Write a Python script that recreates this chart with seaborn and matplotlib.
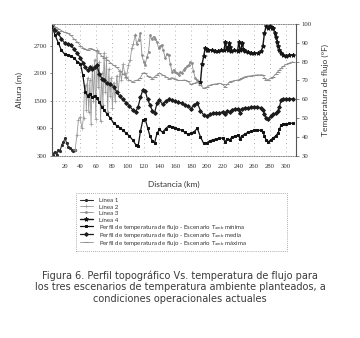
import matplotlib

matplotlib.use("Agg")
import matplotlib.pyplot as plt
import pandas as pd
import seaborn as sns

# ---- data ---------------------------------------------------------------
# topography (m) for the four pipeline segments
KM_L1 = [3.7, 5.8, 7.9, 10, 12.2, 14.3, 16.4, 18.5, 20.6, 22.7, 24.8, 27, 29, 31, 33.3]
ALT_L1 = [352, 310, 388, 315, 424, 410, 540, 606, 680, 570, 497, 460, 424, 400, 424]

KM_L2 = [33.3, 35.5, 37.5, 39.7, 41.8, 43.9, 45, 46.5, 47.5, 49,
         50.5, 52, 53.5, 55, 56.5, 58, 59.5, 61, 62.5, 64,
         65.5, 67, 68.5, 70, 71.5, 73, 74.5, 76, 77.5, 79,
         80.5, 82, 84, 86, 88, 90, 92, 94, 96, 98,
         100.8, 103, 105, 107, 109.5]
ALT_L2 = [424, 750, 1080, 1150, 900, 1120, 1700, 1850, 1300, 2000,
          1250, 1950, 1000, 2250, 1500, 2400, 1100, 2600, 1800, 2350,
          1050, 2100, 1400, 2550, 1700, 2450, 1250, 2200, 1600, 2000,
          1350, 1900, 1500, 2050, 1700, 2150, 1950, 2300, 2100, 2000,
          2281, 2400, 2647, 2750, 2939]

KM_L3 = [109.5, 111, 113.7, 115.8, 117.9, 120, 122, 124, 126.3, 128.4,
         130, 132.6, 134.7, 136.9, 139, 141, 143.2, 145, 147.4, 149.5,
         151.7, 153.8, 155.9, 158, 160, 162, 164.3, 166, 168.5, 170.5,
         172.7, 175, 177, 179, 181.2, 183, 185.4, 187.5, 189.7, 192]
ALT_L3 = [2939, 2750, 2829, 2975, 2503, 2350, 2281, 2450, 2573, 2939,
          2850, 2902, 2850, 2790, 2647, 2700, 2720, 2600, 2430, 2520,
          2500, 2300, 2137, 2180, 2137, 2100, 2064, 2120, 2100, 2180,
          2210, 2250, 2281, 2350, 2318, 2150, 1994, 1950, 1921, 1919]

KM_L4 = [192, 194, 196, 198, 200, 202, 206, 210, 214, 218,
         222, 223.5, 225, 226.5, 228, 229.5, 231, 235, 239, 240.5,
         242, 243.5, 245, 246.5, 248, 252, 256, 260, 265, 269,
         271, 273, 275, 277, 280, 282, 284, 286, 287.5, 289,
         290.5, 292, 294, 296, 300, 304, 309]
ALT_L4 = [1919, 2300, 2470, 2651, 2620, 2614, 2600, 2590, 2577, 2600,
          2614, 2795, 2650, 2620, 2760, 2684, 2590, 2600, 2590, 2795,
          2620, 2640, 2770, 2620, 2590, 2560, 2540, 2540, 2540, 2577,
          2700, 2980, 3124, 3100, 3136, 3080, 3091, 2980, 2900, 2795,
          2700, 2614, 2540, 2503, 2478, 2490, 2503]

# flow temperature (F) for the three ambient scenarios
KM_T = [4, 8, 12, 16, 20, 24, 28, 32, 36, 40,
        43, 46, 49, 52, 55, 58, 61, 64, 67, 70,
        74, 78, 82, 86, 90, 94, 98, 102, 106, 110,
        113, 116, 119, 122, 125, 128, 131, 134, 137, 140,
        144, 148, 152, 156, 160, 164, 168, 172, 176, 180,
        184, 188, 192, 196, 200, 204, 208, 212, 216, 220,
        223, 226, 229, 232, 236, 240, 242, 244, 248, 252,
        256, 260, 264, 268, 271, 273, 275, 278, 281, 284,
        287, 290, 292, 294, 297, 300, 304, 309]
T_MIN = [99, 94, 90, 86, 84, 83.5, 83, 82, 80, 79,
         73, 64, 62, 63, 61, 62, 60.5, 58.5, 56, 54.5,
         52, 50, 47.4, 46, 45, 43.5, 42, 40.5, 38.5, 36,
         35, 43, 49, 49.5, 45, 40.5, 38, 37, 42, 44,
         42.5, 44.5, 46, 45.5, 45, 44, 43.7, 42.5, 41.5, 42,
         42.8, 44.6, 40, 36.6, 37, 38, 38.5, 39, 39.2, 39.5,
         37.5, 39, 38.5, 40, 40.5, 41, 39, 40.5, 41.5, 42.5,
         43, 43.5, 43.7, 43.5, 42.8, 40.5, 38.3, 37.5, 38.5, 39.5,
         40.5, 42, 44, 46.3, 47, 47, 47.2, 47.3]
T_MED = [99.5, 97, 95, 92, 90, 89.5, 89, 86.5, 84.5, 82,
         79.5, 77, 75.5, 77, 76, 77, 78, 73.5, 71, 70,
         68.5, 68, 66.7, 64, 61.5, 60, 58, 56.5, 54.5, 53.5,
         56, 61, 65, 64.5, 60, 57, 54, 53, 58, 59.5,
         57.5, 59, 60, 59.5, 59, 58.5, 58, 57, 56.5, 55,
         57, 58, 54, 51.7, 51, 52, 52.5, 53, 52.5, 53.5,
         52, 54, 53.5, 54.5, 55, 55, 53, 55, 55.5, 55.5,
         55.8, 56, 56, 55.5, 54.5, 52, 50, 49.5, 51, 52,
         52.5, 54, 56, 59.5, 60, 60, 60.2, 60.3]
T_MAX = [100, 98.5, 97.5, 96.5, 95.5, 95, 94, 92, 90.5, 88.5,
         87.5, 86.5, 86, 87, 86.5, 86, 85.7, 84.5, 83, 82,
         81, 79.5, 78, 77, 75, 73.5, 72, 70, 69.4, 70,
         70.3, 71.5, 74, 74, 72.5, 72, 71, 72, 73, 73.8,
         73, 72, 71, 71.5, 71, 70, 70, 70.3, 69.5, 68,
         68.5, 69, 67.5, 65.9, 66.5, 67.5, 68, 68.2, 68.5, 68,
         66.5, 68, 69.4, 69.6, 70, 70.3, 70.8, 71.2, 72, 72.3,
         72.5, 72.8, 73, 73, 73, 71.5, 70.3, 70.5, 71.2, 72,
         73.2, 74.7, 75.5, 76.5, 77.5, 78.5, 79.2, 80]

ALT_TICKS = [300, 900, 1500, 2100, 2700]
TEMP_TICKS = [30, 40, 50, 60, 70, 80, 90, 100]
KM_TICKS = list(range(20, 301, 20))
GRID_ALT = 1500

LINE_LABELS = ["Línea 1", "Línea 2", "Línea 3", "Línea 4"]
TEMP_LABELS = [
    r"Perfil de temperatura de flujo - Escenario T$_\mathregular{amb}$ mínima",
    r"Perfil de temperatura de flujo - Escenario T$_\mathregular{amb}$ media",
    r"Perfil de temperatura de flujo - Escenario T$_\mathregular{amb}$ máxima",
]
CAPTION = ("Figura 6. Perfil topográfico Vs. temperatura de flujo para\n"
           "los tres escenarios de temperatura ambiente planteados, a\n"
           "condiciones operacionales actuales")

# ---- plotting ------------------------------------------------------------
sns.set_theme(style="white")
plt.rcParams["font.family"] = ["Lato", "DejaVu Sans"]

fig = plt.figure(figsize=(3.6, 3.38), dpi=100)
ax = fig.add_axes([0.1444, 0.539, 0.678, 0.390])
ax2 = ax.twinx()

line_styles = [
    dict(color="#2b2b2b", marker=".", markersize=3.0, linewidth=0.8),
    dict(color="#9a9a9a", marker="+", markersize=2.6, linewidth=0.6, markeredgewidth=0.5),
    dict(color="#8c8c8c", marker=".", markersize=2.4, linewidth=0.6),
    dict(color="#151515", marker="*", markersize=3.0, linewidth=1.0),
]
for label, kms, alts, st in zip(
    LINE_LABELS, [KM_L1, KM_L2, KM_L3, KM_L4], [ALT_L1, ALT_L2, ALT_L3, ALT_L4], line_styles
):
    df = pd.DataFrame({"km": kms, "alt": alts})
    sns.lineplot(data=df, x="km", y="alt", ax=ax, sort=False, label=label,
                 markeredgecolor=st["color"], **st)

temp_styles = [
    dict(color="#111111", marker="s", markersize=1.9, linewidth=0.9),
    dict(color="#1c1c1c", marker="D", markersize=1.9, linewidth=0.9),
    dict(color="#8f8f8f", marker="_", markersize=2.4, linewidth=0.6),
]
for label, temps, st in zip(TEMP_LABELS, [T_MIN, T_MED, T_MAX], temp_styles):
    df = pd.DataFrame({"km": KM_T, "temp": temps})
    sns.lineplot(data=df, x="km", y="temp", ax=ax2, sort=False, label=label,
                 markeredgecolor=st["color"], **st)

ax.set_xlim(4, 313)
ax.set_ylim(300, 3177)
ax2.set_ylim(30, 100)

ax.set_xticks(KM_TICKS)
ax.set_yticks(ALT_TICKS)
ax2.set_yticks(TEMP_TICKS)
for lab in ax.get_xticklabels() + ax.get_yticklabels() + ax2.get_yticklabels():
    lab.set_fontfamily("Liberation Serif")
    lab.set_fontsize(4.9)
    lab.set_color("#333333")
ax.tick_params(axis="x", length=0, pad=6)
ax.tick_params(axis="y", left=True, length=1.5, width=0.5, pad=2, color="#555555")
ax2.tick_params(axis="y", right=True, length=2, width=0.5, pad=2, color="#555555")

ax.xaxis.grid(True, linestyle=(0, (1, 4)), color="#9a9a9a", linewidth=0.6)
ax.yaxis.grid(False)
ax.axhline(GRID_ALT, linestyle=(0, (1, 3)), color="#9a9a9a", linewidth=0.6, zorder=0)

for name in ["top", "bottom"]:
    ax.spines[name].set_linestyle((0, (1, 1.5)))
    ax.spines[name].set_color("#888888")
    ax.spines[name].set_linewidth(0.7)
    ax2.spines[name].set_visible(False)
ax.spines["left"].set_color("#555555")
ax.spines["left"].set_linewidth(0.8)
ax.spines["right"].set_visible(False)
ax2.spines["left"].set_visible(False)
ax2.spines["right"].set_color("#555555")
ax2.spines["right"].set_linewidth(0.8)

label_font = dict(fontsize=6, color="#333333")
ax.set_xlabel("Distancia (km)", **label_font)
ax.set_ylabel("Altura (m)", **label_font)
ax2.set_ylabel("Temperatura de flujo (°F)", **label_font)
ax.xaxis.set_label_coords(0.5, -0.19)
ax.yaxis.set_label_coords(-0.12, 0.5)
ax2.yaxis.set_label_coords(1.105, 0.5)

h1, l1 = ax.get_legend_handles_labels()
h2, l2 = ax2.get_legend_handles_labels()
ax.legend_.remove()
ax2.legend_.remove()
# a tall handle box makes every row as high as the subscripted ones
leg = fig.legend(
    h1 + h2, l1 + l2,
    loc="upper left", bbox_to_anchor=(76 / 360, 1 - 193 / 338, 211 / 360, 0),
    mode="expand", fontsize=4.4, frameon=True, fancybox=False,
    handlelength=2.2, handleheight=1.5, handletextpad=0.9, labelspacing=-0.16,
    borderpad=0.6, borderaxespad=0,
)
leg.get_frame().set_linestyle((0, (1, 1.5)))
leg.get_frame().set_edgecolor("#777777")
leg.get_frame().set_linewidth(0.6)
for t in leg.get_texts():
    t.set_color("#333333")

fig.text(0.5, 0.151, CAPTION, ha="center", va="center", fontsize=7,
         family="DejaVu Sans", color="#3a3a3a", linespacing=1.2)

fig.savefig("out.png", dpi=100)
